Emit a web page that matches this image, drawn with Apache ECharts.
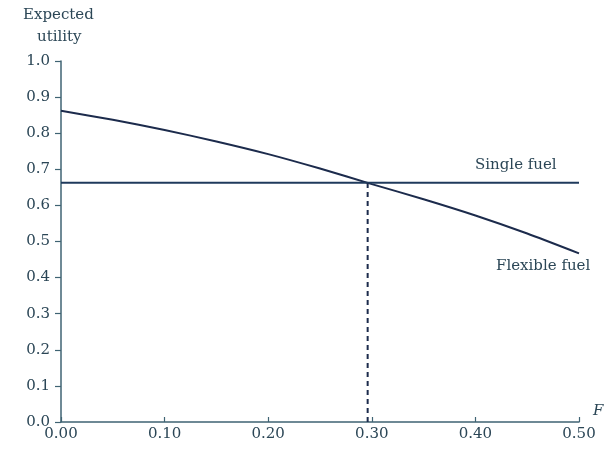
<!DOCTYPE html>
<html><head><meta charset="utf-8">
<script src="https://cdn.jsdelivr.net/npm/echarts@6/dist/echarts.min.js"></script>
<style>html,body{margin:0;padding:0;background:#fff}#c{width:611px;height:453px}</style>
</head><body><div id="c"></div>
<script>
var fValues = [0, 0.05, 0.1, 0.15, 0.2, 0.25, 0.3, 0.35, 0.4, 0.45, 0.5];
var flexibleFuel = [0.862, 0.837, 0.809, 0.777, 0.742, 0.702, 0.659, 0.617, 0.572, 0.522, 0.467];
var singleFuelValue = 0.663;
var crossF = 0.296;
var xTicks = ['0.00', '0.10', '0.20', '0.30', '0.40', '0.50'];
var yTicks = ['0.0','0.1','0.2','0.3','0.4','0.5','0.6','0.7','0.8','0.9','1.0'];

var txt = '#2b4656';
var axisCol = '#3f6373';
var font = '"DejaVu Serif", "Liberation Serif", serif';

var chart = echarts.init(document.getElementById('c'), null, {renderer: 'canvas'});
chart.setOption({
  animation: false,
  backgroundColor: '#fff',
  grid: {left: 61, right: 32, top: 61, bottom: 31, containLabel: false},
  xAxis: {
    type: 'value', min: 0, max: 0.5, interval: 0.1,
    name: 'F', nameLocation: 'end', nameGap: 14,
    nameTextStyle: {fontFamily: font, fontStyle: 'italic', fontSize: 15, color: txt, verticalAlign: 'bottom', padding: [0, 0, 3, 0]},
    axisLine: {lineStyle: {color: axisCol, width: 1.5}},
    axisTick: {inside: true, length: 5, lineStyle: {color: axisCol, width: 1.2}},
    axisLabel: {fontFamily: font, fontSize: 15, color: txt, margin: 5,
      formatter: function (v) { return xTicks[Math.round(v * 10)]; }},
    splitLine: {show: false}
  },
  yAxis: {
    type: 'value', min: 0, max: 1, interval: 0.1,
    axisLine: {show: true, lineStyle: {color: axisCol, width: 1.5}},
    axisTick: {show: true, inside: false, length: 6, lineStyle: {color: axisCol, width: 1.2}},
    axisLabel: {fontFamily: font, fontSize: 15, color: txt, margin: 11,
      formatter: function (v) { return yTicks[Math.round(v * 10)]; }},
    splitLine: {show: false}
  },
  graphic: [
    {type: 'text', left: 23, top: 8, style: {text: 'Expected', font: '15px ' + font, fill: txt}},
    {type: 'text', left: 37, top: 30, style: {text: 'utility', font: '15px ' + font, fill: txt}},
    {type: 'text', left: 475, top: 158, style: {text: 'Single fuel', font: '15px ' + font, fill: txt}},
    {type: 'text', left: 496, top: 259, style: {text: 'Flexible fuel', font: '15px ' + font, fill: txt}}
  ],
  series: [
    {
      type: 'line', name: 'Flexible fuel', smooth: 0.2, symbol: 'none',
      data: fValues.map(function (f, i) { return [f, flexibleFuel[i]]; }),
      lineStyle: {color: '#1c2b4c', width: 2}
    },
    {
      type: 'line', name: 'Single fuel', symbol: 'none',
      data: [[0, singleFuelValue], [0.5, singleFuelValue]],
      lineStyle: {color: '#1f3a5c', width: 2}
    },
    {
      type: 'line', name: 'cross', symbol: 'none',
      data: [[crossF, 0], [crossF, singleFuelValue]],
      lineStyle: {color: '#1c2b4c', width: 2, type: [5, 4]}
    }
  ]
});
</script></body></html>
